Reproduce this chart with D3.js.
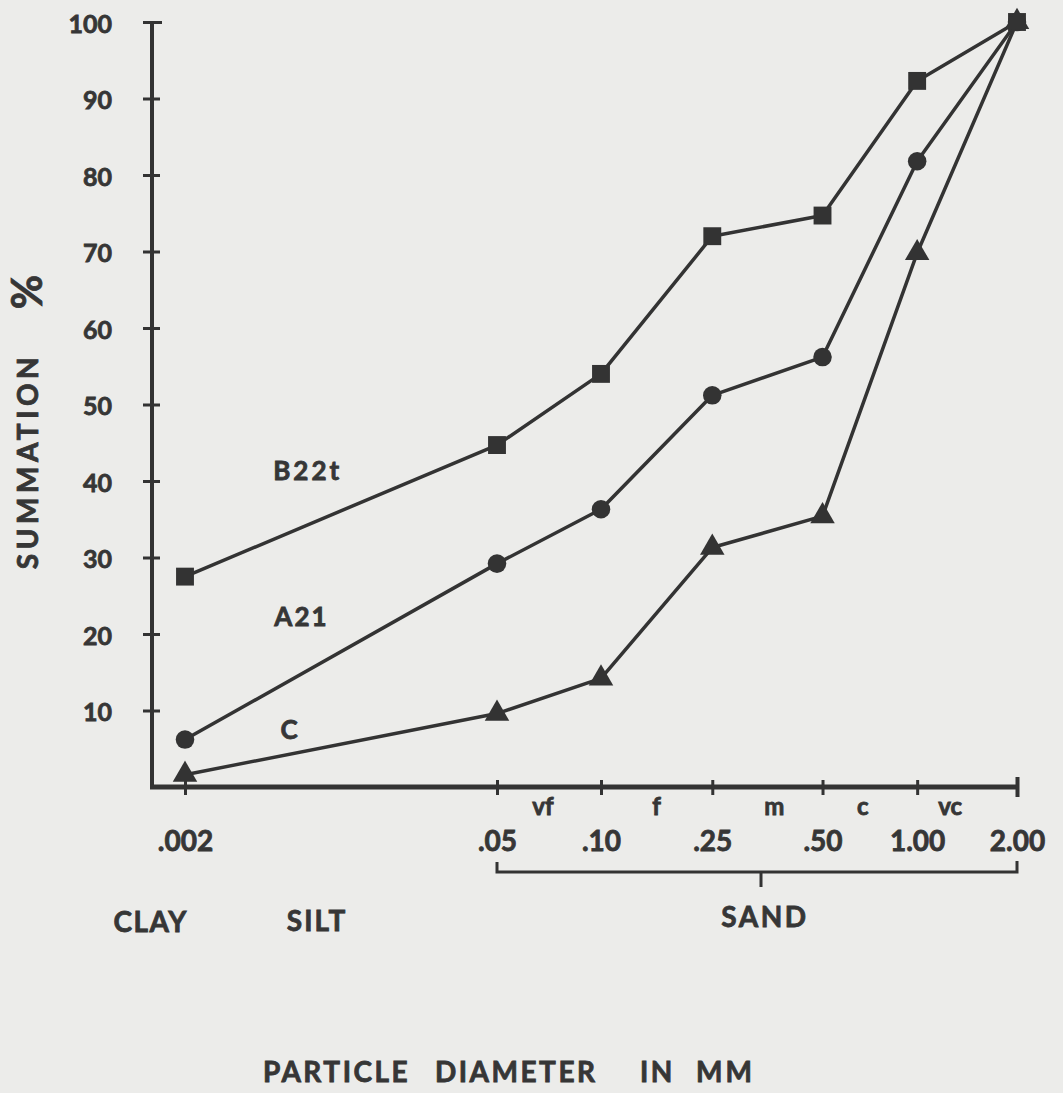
<!DOCTYPE html>
<html>
<head>
<meta charset="utf-8">
<script src="https://cdn.jsdelivr.net/npm/d3@7"></script>
<style>
  body { margin: 0; background: #ececea; }
  svg { display: block; }
  text {
    font-family: Lato, "Open Sans", sans-serif;
    font-weight: 700;
    fill: #363636;
    stroke: #363636;
    stroke-width: 0.8px;
  }
</style>
</head>
<body>
<svg id="chart" width="1063" height="1093"></svg>
<script>
// particle size classes (mm) and where they sit along the hand-drawn axis
const sizes = [".002", ".05", ".10", ".25", ".50", "1.00", "2.00"];
const slots = [0, 3, 4, 5.07, 6.13, 7.04, 8];
const sandClasses = ["vf", "f", "m", "c", "vc"];
const yTicks = [10, 20, 30, 40, 50, 60, 70, 80, 90, 100];

// cumulative %
const b22t = [27.5, 44.7, 54, 72, 74.7, 92.3, 100];
const a21 = [6.2, 29.2, 36.3, 51.2, 56.2, 81.8, 100];
const horizC = [1.6, 9.6, 14.2, 31.3, 35.4, 69.8, 100];

const series = [
  { name: "B22t", values: b22t, symbol: d3.symbolSquare, size: 320, lx: 1.18, ly: 41.3, ls: 3 },
  { name: "A21", values: a21, symbol: d3.symbolCircle, size: 270, lx: 1.12, ly: 22.2, ls: 2 },
  { name: "C", values: horizC, symbol: d3.symbolTriangle, size: 260, lx: 1.0, ly: 7.5, ls: 0 },
];

const ink = "#333";
const svg = d3.select("#chart");

const x = d3.scaleLinear().domain([0, 8]).range([185, 1017]);
const y = d3.scaleLinear().domain([0, 100]).range([787, 22]);
const x0 = 152; // where the y axis stands

// y axis
const yAxis = d3.axisLeft(y).tickValues(yTicks).tickSize(0).tickPadding(40);
const gy = svg.append("g").attr("transform", `translate(${x0},0)`).call(yAxis);
gy.select(".domain").remove();
gy.selectAll(".tick text")
  .style("font-size", "25px")
  .style("fill", "#363636")
  .attr("dy", "0.4em");
gy.selectAll(".tick line")
  .attr("x1", -9)
  .attr("x2", (d) => (d === 100 ? 10 : 8))
  .attr("stroke", ink)
  .attr("stroke-width", 3);

svg.append("line")
  .attr("x1", x0).attr("x2", x0)
  .attr("y1", y(100)).attr("y2", y(0) + 2)
  .attr("stroke", ink).attr("stroke-width", 4);

// x axis
svg.append("line")
  .attr("x1", x0 - 2).attr("x2", x(8))
  .attr("y1", y(0)).attr("y2", y(0))
  .attr("stroke", ink).attr("stroke-width", 5);

const xAxis = d3.axisBottom(x).tickValues(slots)
  .tickFormat((d, i) => sizes[i]).tickSize(0);
const gx = svg.append("g").attr("transform", `translate(0,${y(0)})`).call(xAxis);
gx.select(".domain").remove();
gx.selectAll(".tick line")
  .attr("y1", (d) => (d === 8 ? -10 : -7))
  .attr("y2", (d) => (d === 8 ? 10 : 8))
  .attr("stroke", ink)
  .attr("stroke-width", (d) => (d === 8 ? 4 : 3));
gx.selectAll(".tick text")
  .attr("y", 54)
  .attr("dy", "0.35em")
  .style("font-size", "28px")
  .style("fill", "#363636");

// sand sub-classes between the ticks
const classNudge = [-6, 0, 7, -7, -17];
svg.append("g").selectAll("text")
  .data(sandClasses)
  .join("text")
  .attr("x", (d, i) => (x(slots[i + 1]) + x(slots[i + 2])) / 2 + classNudge[i])
  .attr("y", y(0) + 20)
  .attr("dy", "0.35em")
  .attr("text-anchor", "middle")
  .style("font-size", "24px")
  .text((d) => d);

// sand bracket
const bx1 = x(slots[1]), bx2 = x(slots[6]), by = 872;
const bmid = (bx1 + bx2) / 2 + 4;
svg.append("path")
  .attr("d", `M${bx1},${by - 10}V${by}H${bx2}V${by - 11}M${bmid},${by}v15`)
  .attr("fill", "none")
  .attr("stroke", ink)
  .attr("stroke-width", 3);

svg.append("text").attr("x", bmid + 4).attr("y", 917).attr("dy", "0.35em")
  .attr("text-anchor", "middle").style("font-size", "28px").style("letter-spacing", "2.5px")
  .text("SAND");
svg.append("text").attr("x", x(-0.33)).attr("y", 922).attr("dy", "0.35em")
  .attr("text-anchor", "middle").style("font-size", "28px").style("letter-spacing", "1.5px")
  .text("CLAY");
svg.append("text").attr("x", x(1.27)).attr("y", 921).attr("dy", "0.35em")
  .attr("text-anchor", "middle").style("font-size", "28px").style("letter-spacing", "2px")
  .text("SILT");

// axis titles
const titleWords = ["PARTICLE", "DIAMETER", "IN", "MM"];
const titleStarts = [263, 435, 640, 696];
svg.append("g").selectAll("text")
  .data(titleWords)
  .join("text")
  .attr("x", (d, i) => titleStarts[i])
  .attr("y", 1072)
  .attr("dy", "0.35em")
  .style("font-size", "28px")
  .style("letter-spacing", (d) => (d === "MM" ? "3px" : "2.5px"))
  .text((d) => d);

svg.append("text")
  .attr("transform", "translate(28,461) rotate(-90)")
  .attr("dy", "0.35em")
  .attr("text-anchor", "middle")
  .style("font-size", "28px")
  .style("letter-spacing", "4.5px")
  .text("SUMMATION");
svg.append("text")
  .attr("transform", "translate(27,292) rotate(-90)")
  .attr("dy", "0.35em")
  .attr("text-anchor", "middle")
  .style("font-size", "42px")
  .text("%");

// curves
const line = d3.line()
  .x((d, i) => x(slots[i]))
  .y((d) => y(d));

const gs = svg.append("g").selectAll("g")
  .data(series)
  .join("g");

gs.append("path")
  .attr("d", (s) => line(s.values))
  .attr("fill", "none")
  .attr("stroke", ink)
  .attr("stroke-width", 3.5)
  .attr("stroke-linejoin", "round");

gs.selectAll("path.mark")
  .data((s) => s.values.map((v, i) => ({ v, i, s })))
  .join("path")
  .attr("class", "mark")
  .attr("transform", (d) => `translate(${x(slots[d.i])},${y(d.v)})`)
  .attr("d", (d) => d3.symbol().type(d.s.symbol).size(d.s.size)())
  .attr("fill", ink);

gs.append("text")
  .attr("x", (s) => x(s.lx))
  .attr("y", (s) => y(s.ly))
  .attr("dy", "0.35em")
  .attr("text-anchor", "middle")
  .style("font-size", "26px")
  .style("letter-spacing", (s) => s.ls + "px")
  .text((s) => s.name);
</script>
</body>
</html>
